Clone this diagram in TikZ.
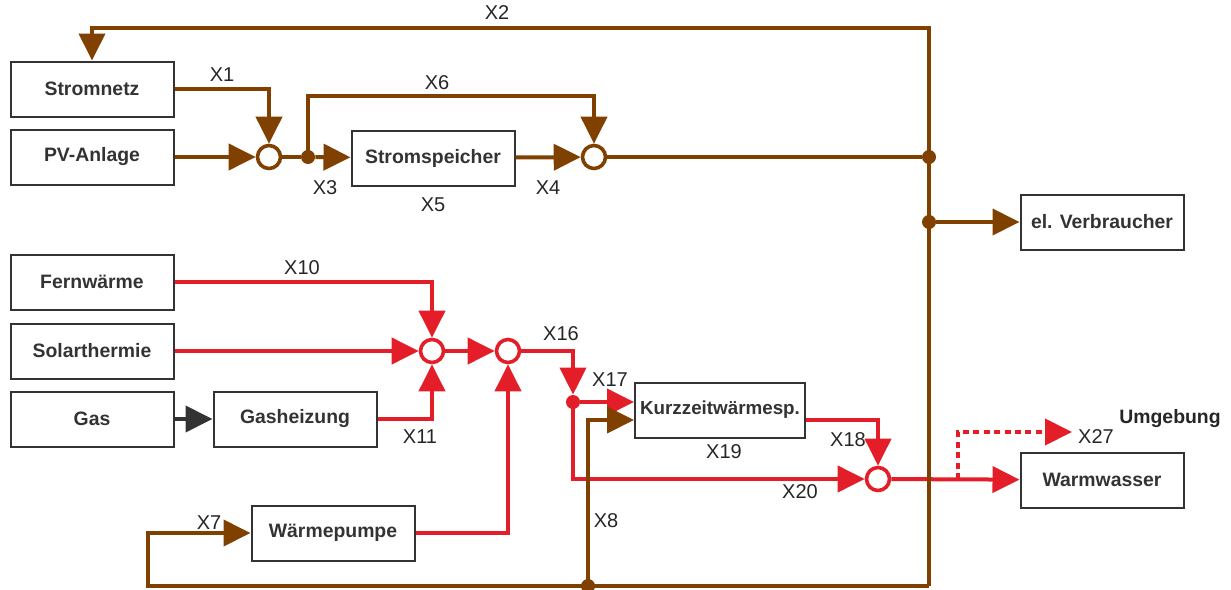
\documentclass[tikz,border=0pt]{standalone}
\usepackage{fontspec}
\setmainfont{Liberation Sans}
\usetikzlibrary{positioning,arrows.meta,calc}
\definecolor{strom}{RGB}{128,64,0}
\definecolor{waerme}{RGB}{228,30,40}
\definecolor{rahmen}{RGB}{51,51,51}

\begin{document}
\begin{tikzpicture}[x=.5pt,y=-.5pt,font=\fontsize{10}{12}\selectfont,
  >={Triangle[length=13.5pt,width=13pt]},
  block/.style={draw=rahmen,line width=1pt,text=rahmen,
    font=\fontsize{9.7}{11}\selectfont\bfseries,
    minimum width=81.5pt,minimum height=27.5pt,inner sep=0pt},
  mix/.style={circle,fill=white,line width=1.8pt,minimum size=11.5pt,inner sep=0pt},
  knot/.style={circle,fill,minimum size=7pt,inner sep=0pt},
  el/.style={strom,line width=2pt},
  th/.style={waerme,line width=2pt},
  lbl/.style={text=black!85}]
 \useasboundingbox (0,0) rectangle (1231,589);
 % blocks
 \node[block] (netz) at (92,89) {Stromnetz};
 \node[block] (pv) at (92,157) {PV-Anlage};
 \node[block] (speicher) at (433,158) {Stromspeicher};
 \node[block] (verbr) at (1102,222) {el. Verbraucher};
 \node[block] (fern) at (92,282) {Fernwärme};
 \node[block] (solar) at (92,351) {Solarthermie};
 \node[block] (gas) at (92,419) {Gas};
 \node[block] (gash) at (295,419) {Gasheizung};
 \node[block] (wp) at (333,533) {Wärmepumpe};
 \node[block,minimum width=85pt,font=\fontsize{9.4}{11}\selectfont\bfseries]
   (kzs) at (720,410) {Kurzzeitwärmesp.};
 \node[block] (ww) at (1102,480) {Warmwasser};
 % junctions
 \node[mix,draw=strom] (m1) at (269,157) {};
 \node[mix,draw=strom] (m2) at (594,157) {};
 \node[mix,draw=waerme] (m3) at (432,351) {};
 \node[mix,draw=waerme] (m4) at (508,351) {};
 \node[mix,draw=waerme] (m5) at (878,479) {};
 \node[knot,strom] (d1) at (308,157) {};
 \node[knot,strom] (d2) at (929,157) {};
 \node[knot,strom] (d3) at (929,222) {};
 \node[knot,strom] (d5) at (588,586) {};
 \node[knot,waerme] (d4) at (573,402) {};
 \coordinate (top) at (929,28);
 \coordinate (bot) at (929,586);
 \coordinate (links) at (148,586);
 \coordinate (abzw) at (958,479);
 \coordinate (aussen) at (1072,432);

 % heat
 \draw[th,->] (fern.east) -| (m3.north);
 \draw[th,->] (solar) -- (m3);
 \draw[th,->] (gash.east) -| (m3.south);
 \draw[th,->] (m3) -- (m4);
 \draw[th,->] (wp.east) -| (m4.south);
 \draw[th,->] (m4) -| (d4);
 \draw[th,->] (d4) -- (d4 -| kzs.west);
 \draw[th,->] (d4.center) |- (m5);
 \draw[th,->] ([yshift=-5pt]kzs.east) -| (m5.north);
 \draw[th,->] (m5) -- (ww);
 \draw[th,->,dash pattern=on 3pt off 2.2pt] (abzw) |- (aussen);
 \draw[rahmen,line width=2pt,->] (gas) -- (gash);

 % electricity
 \draw[el,->] (bot) -- (top) -| (netz.north);
 \draw[el,->] (netz.east) -| (m1.north);
 \draw[el,->] (pv) -- (m1);
 \draw[el] (m1) -- (d1);
 \draw[el,->] (d1) -- (speicher);
 \draw[el,->] (d1.center) -- ++(0,-61) -| (m2.north);
 \draw[el,->] (speicher) -- (m2);
 \draw[el] (m2) -- (d2);
 \draw[el,->] (d3) -- (verbr);
 \draw[el,->] (bot) -- (links) |- (wp.west);
 \draw[el,->] (d5.center) |- ([yshift=-5pt]kzs.west);

 % labels
 \foreach \n/\x/\y in {X1/222/75,X2/497/13,X3/325/188,X4/548/188,X5/433/205,
   X6/437/83,X7/209/523,X8/606/521,X10/302/268,X11/420/437,X16/561/334,
   X17/610/380,X18/848/440,X19/724/452,X20/800/492,X27/1096/437}
  \node[lbl] (l\n) at (\x,\y) {\n};
 \node[lbl,font=\fontsize{9.7}{11}\selectfont\bfseries] (lumg) at (1170,419) {Umgebung};
\end{tikzpicture}
\end{document}
